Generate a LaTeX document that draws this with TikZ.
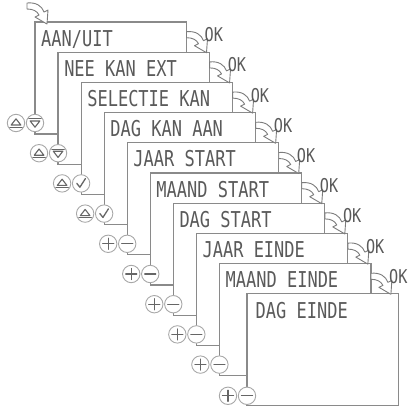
\documentclass[tikz,border=0pt]{standalone}
\usepackage{fontspec}
\usepackage{graphicx}
\usetikzlibrary{calc}
\newfontfamily\lcdfont{DejaVu Sans Mono}
\definecolor{lineg}{HTML}{8A8A8A}
\definecolor{textg}{HTML}{5A5A5A}
\definecolor{circg}{HTML}{A8A8A8}
\definecolor{symg}{HTML}{666666}
\newcommand{\lcdtext}[1]{\scalebox{0.81}[1.04]{\fontsize{21}{21}\selectfont\lcdfont #1}}
\newcommand{\oktext}[1]{\scalebox{0.8}[1]{\fontsize{19}{19}\selectfont\lcdfont #1}}
\begin{document}
\begin{tikzpicture}[x=1pt,y=-1pt,
  screen/.style={draw=lineg, line width=1.2pt, fill=white, anchor=north west,
    minimum width=151.5pt, minimum height=112pt, inner sep=0pt, outer sep=0pt},
  lbl/.style={anchor=base west, inner sep=0pt, text=textg},
  btn/.style={circle, draw=circg, line width=0.9pt, fill=white,
    minimum size=17.4pt, inner sep=0pt},
  sym/.style={draw=symg, line width=1.3pt, line cap=round, line join=round},
  arr/.style={draw=lineg!90!black, line width=0.9pt, fill=white, line join=round},
  up/.pic={\draw[sym,line width=1.1pt] (-4.8,2) -- (4.8,2) -- (0,-4.2) -- cycle;
           \draw[sym,line width=0.8pt] (-6.3,4.2) -- (6.3,4.2);},
  down/.pic={\draw[sym,line width=1.1pt] (-4.8,-2) -- (4.8,-2) -- (0,4.2) -- cycle;
             \draw[sym,line width=0.8pt] (-6.3,-4.2) -- (6.3,-4.2);},
  chk/.pic={\draw[sym] (-4.3,0) -- (-1.2,3.8) -- (4.3,-4.8);},
  plus/.pic={\draw[sym] (-5.5,0) -- (5.5,0) (0,-5.5) -- (0,5.5);},
  minus/.pic={\draw[sym] (-5.5,0) -- (5.5,0);},
  okarrow/.pic={\draw[arr] (0,-2) .. controls (9,-3) and (15,1) .. (17,7)
       -- (21,5) -- (20,19) -- (8,12) -- (12,10)
       .. controls (10,6) and (6,4) .. (0,4) -- cycle;}
]
\useasboundingbox (0,0) rectangle (408,408);

% screens
\node[screen] (b1) at (35,22) {};
\node[lbl] (t1) at ($(b1.north west)+(6,24)$) {\lcdtext{AAN/UIT}};
\node[btn] (l1) at ($(b1.south west)+(-19,-11)$) {};
\node[btn] (r1) at ($(b1.south west)+(0,-11)$) {};
\pic at (l1.center) {up}; \pic at (r1.center) {down};

\node[screen] (b2) at (58.05,52.2) {};
\node[lbl] (t2) at ($(b2.north west)+(6,24)$) {\lcdtext{NEE KAN EXT}};
\node[btn] (l2) at ($(b2.south west)+(-19,-11)$) {};
\node[btn] (r2) at ($(b2.south west)+(0,-11)$) {};
\pic at (l2.center) {up}; \pic at (r2.center) {down};

\node[screen] (b3) at (81.1,82.4) {};
\node[lbl] (t3) at ($(b3.north west)+(6,24)$) {\lcdtext{SELECTIE KAN}};
\node[btn] (l3) at ($(b3.south west)+(-19,-11)$) {};
\node[btn] (r3) at ($(b3.south west)+(0,-11)$) {};
\pic at (l3.center) {up}; \pic at (r3.center) {chk};

\node[screen] (b4) at (104.15,112.6) {};
\node[lbl] (t4) at ($(b4.north west)+(6,24)$) {\lcdtext{DAG KAN AAN}};
\node[btn] (l4) at ($(b4.south west)+(-19,-11)$) {};
\node[btn] (r4) at ($(b4.south west)+(0,-11)$) {};
\pic at (l4.center) {up}; \pic at (r4.center) {chk};

\node[screen] (b5) at (127.2,142.8) {};
\node[lbl] (t5) at ($(b5.north west)+(6,24)$) {\lcdtext{JAAR START}};
\node[btn] (l5) at ($(b5.south west)+(-19,-11)$) {};
\node[btn] (r5) at ($(b5.south west)+(0,-11)$) {};
\pic at (l5.center) {plus}; \pic at (r5.center) {minus};

\node[screen] (b6) at (150.25,173) {};
\node[lbl] (t6) at ($(b6.north west)+(6,24)$) {\lcdtext{MAAND START}};
\node[btn] (l6) at ($(b6.south west)+(-19,-11)$) {};
\node[btn] (r6) at ($(b6.south west)+(0,-11)$) {};
\pic at (l6.center) {plus}; \pic at (r6.center) {minus};

\node[screen] (b7) at (173.3,203.2) {};
\node[lbl] (t7) at ($(b7.north west)+(6,24)$) {\lcdtext{DAG START}};
\node[btn] (l7) at ($(b7.south west)+(-19,-11)$) {};
\node[btn] (r7) at ($(b7.south west)+(0,-11)$) {};
\pic at (l7.center) {plus}; \pic at (r7.center) {minus};

\node[screen] (b8) at (196.35,233.4) {};
\node[lbl] (t8) at ($(b8.north west)+(6,24)$) {\lcdtext{JAAR EINDE}};
\node[btn] (l8) at ($(b8.south west)+(-19,-11)$) {};
\node[btn] (r8) at ($(b8.south west)+(0,-11)$) {};
\pic at (l8.center) {plus}; \pic at (r8.center) {minus};

\node[screen] (b9) at (219.4,263.6) {};
\node[lbl] (t9) at ($(b9.north west)+(6,24)$) {\lcdtext{MAAND EINDE}};
\node[btn] (l9) at ($(b9.south west)+(-19,-11)$) {};
\node[btn] (r9) at ($(b9.south west)+(0,-11)$) {};
\pic at (l9.center) {plus}; \pic at (r9.center) {minus};

\node[screen] (b10) at (247,293.8) {};
\node[lbl] (t10) at ($(b10.north west)+(8.5,25)$) {\lcdtext{DAG EINDE}};
\node[btn] (l10) at ($(b10.south west)+(-19,-10)$) {};
\node[btn] (r10) at ($(b10.south west)+(0,-10)$) {};
\pic at (l10.center) {plus}; \pic at (r10.center) {minus};

% entry arrow
\coordinate (start) at (27,5);
\pic at (start) {okarrow};

% OK arrows and labels
\foreach \i/\j in {1/2,2/3,3/4,4/5,5/6,6/7,7/8,8/9,9/10}{
  \coordinate (a\i) at ($(b\i.north east |- b\j.north)+(0,-18.5)$);
  \pic at (a\i) {okarrow};
  \node[lbl] (ok\i) at ($(b\i.north east |- b\j.north)+(18,-10.5)$) {\oktext{OK}};
}
\end{tikzpicture}
\end{document}
